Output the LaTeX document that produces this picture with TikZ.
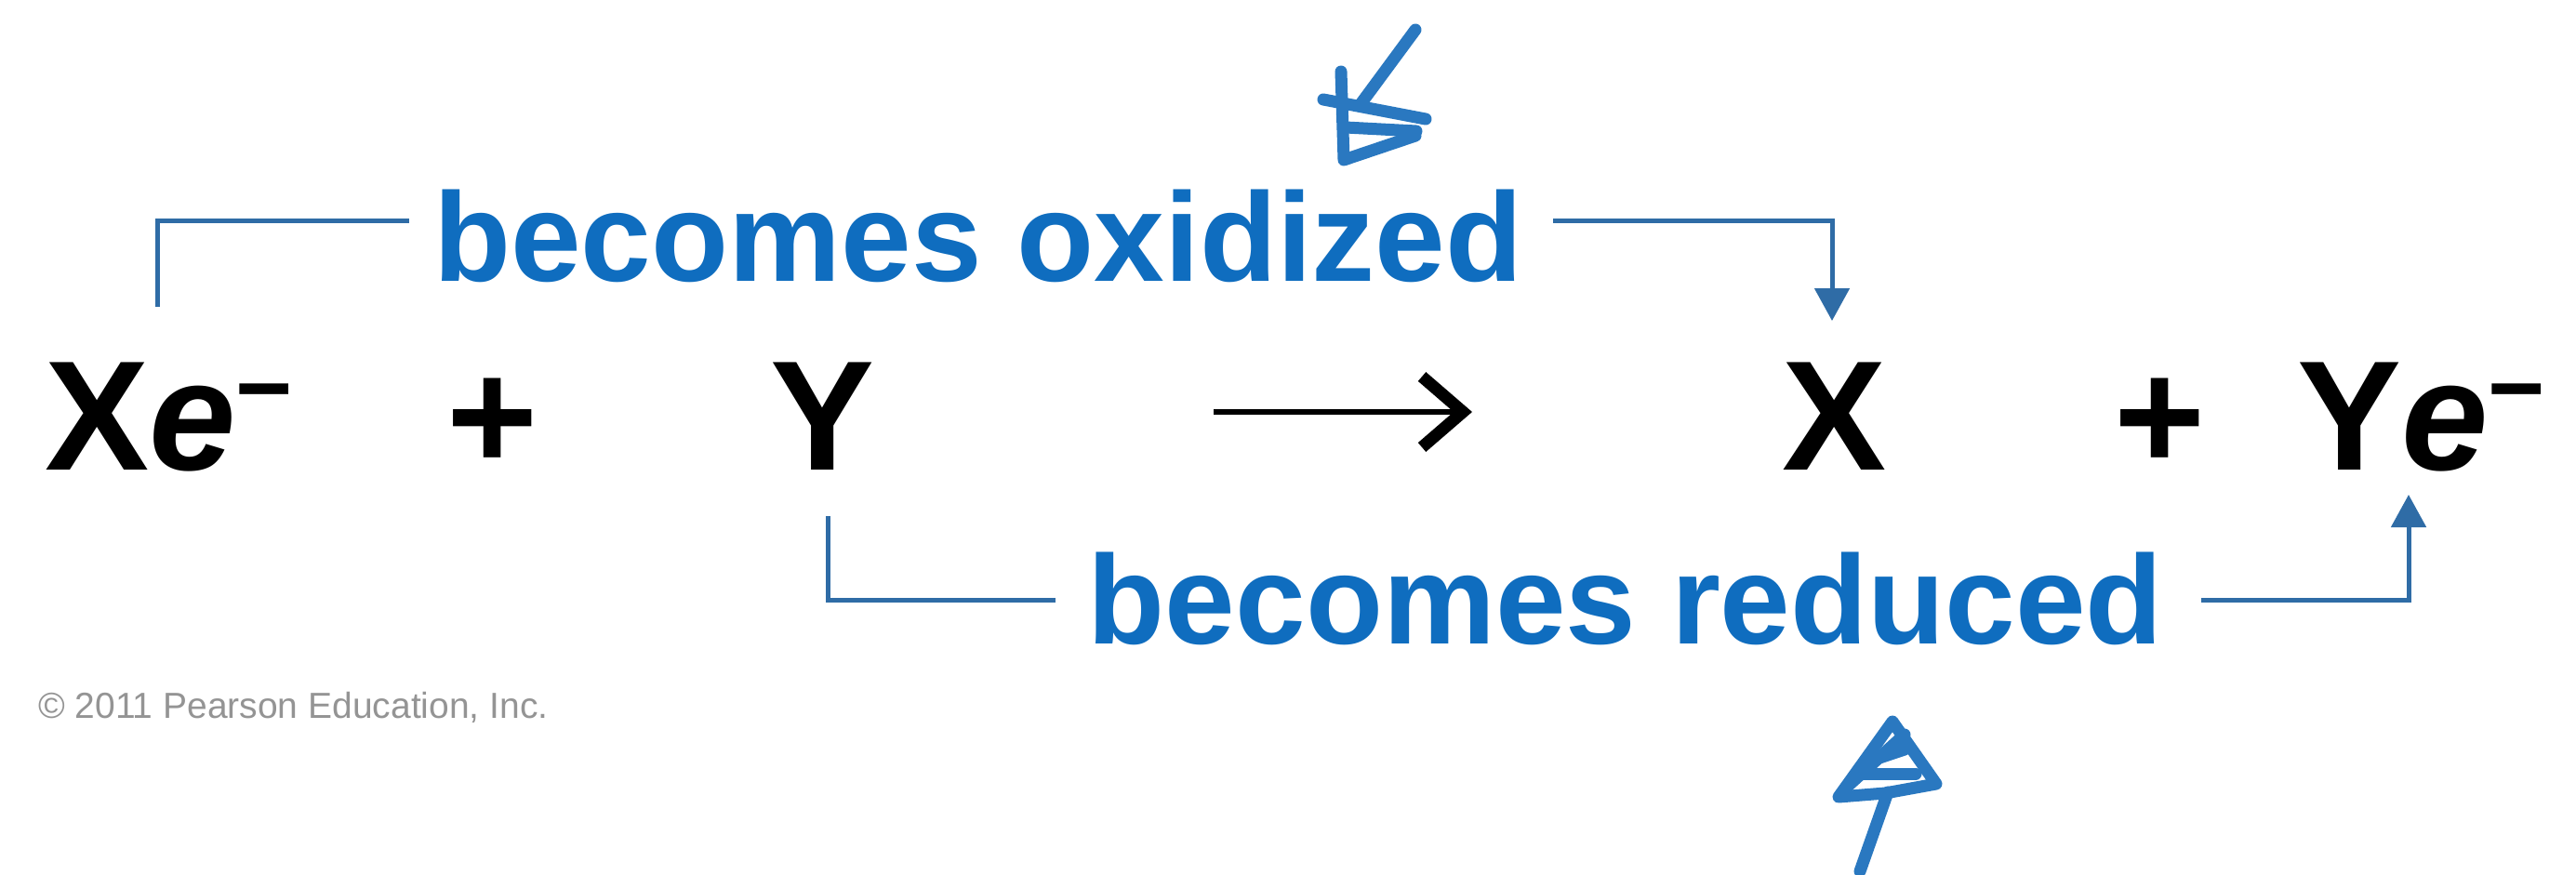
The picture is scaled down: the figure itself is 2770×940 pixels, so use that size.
\documentclass[tikz,border=0pt]{standalone}
\usepackage{fontspec}
\setmainfont{Liberation Sans}
\usetikzlibrary{arrows.meta}
\definecolor{pblue}{HTML}{0F6DBF}
\definecolor{lblue}{HTML}{2F6CA6}
\definecolor{sblue}{HTML}{2A78C0}
\begin{document}
\begin{tikzpicture}[x=1pt,y=-1pt,
  chem/.style={inner sep=0pt, font=\fontsize{168}{200}\selectfont\bfseries},
  lab/.style={inner sep=0pt, text=pblue, font=\fontsize{136}{160}\selectfont\bfseries},
  brk/.style={draw=lblue, line width=5pt},
  tri/.style={-{Triangle[length=35pt,width=37pt]}},
  scrib/.style={draw=sblue, line width=13pt, line cap=round, line join=round}]
\useasboundingbox (0,0) rectangle (2770,940);
\fill[white] (0,0) rectangle (2770,940);
% equation
\node[chem, anchor=base west] (xe) at (48,505) {X\textit{e}\raisebox{52pt}{\fontsize{105}{105}\selectfont −}};
\node[chem, anchor=base] (p1) at (530,505) {+};
\node[chem, anchor=base] (y1) at (885,505) {Y};
\node[chem, anchor=base] (x2) at (1973,505) {X};
\node[chem, anchor=base] (p2) at (2323,505) {+};
\node[chem, anchor=base west] (ye) at (2470,505) {Y\textit{e}\raisebox{52pt}{\fontsize{105}{105}\selectfont −}};
\coordinate (as) at (1305,443);
\coordinate (ae) at (1583,443);
\draw[line width=6pt, -{Straight Barb[length=44pt,width=76pt,line width=13pt]}] (as) -- (ae);
% labels
\node[lab, anchor=base] (ox) at (1052,302) {becomes oxidized};
\node[lab, anchor=base] (rd) at (1748,692) {becomes reduced};
% brackets
\coordinate (oxA) at (169,330);
\coordinate (oxB) at (440,237);
\coordinate (oxC) at (1670,237);
\coordinate (oxD) at (1970,345);
\draw[brk] (oxA) |- (oxB);
\draw[brk, tri] (oxC) -| (oxD);
\coordinate (rdA) at (890,555);
\coordinate (rdB) at (1135,645);
\coordinate (rdC) at (2367,645);
\coordinate (rdD) at (2590,532);
\draw[brk] (rdA) |- (rdB);
\draw[brk, tri] (rdC) -| (rdD);
% copyright
\node[anchor=base west, inner sep=0pt, text=black!42, font=\fontsize{39}{45}\selectfont] (copy) at (41,772) {© 2011 Pearson Education, Inc.};
% hand-drawn marks
\draw[scrib] (1522,32) -- (1463,112);
\draw[scrib] (1442,77) -- (1445,172) -- (1522,146);
\draw[scrib] (1423,107) -- (1533,128);
\draw[scrib] (1447,137) -- (1523,141);
\draw[scrib] (2000,937) -- (2030,852);
\draw[scrib] (1977,857) -- (2035,776) -- (2082,843) -- (2027,853) -- cycle;
\draw[scrib] (1984,848) -- (2048,790);
\draw[scrib] (2003,832) -- (2060,832);
\draw[scrib] (2012,818) -- (2048,806);
\end{tikzpicture}
\end{document}
